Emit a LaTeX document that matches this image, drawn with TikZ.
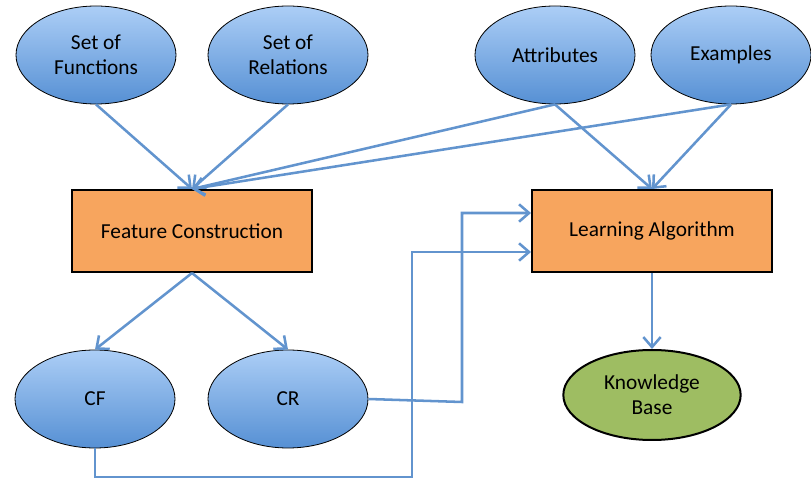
\documentclass[tikz,border=0pt]{standalone}
\usepackage{fontspec}
\setmainfont{Carlito}
\usetikzlibrary{arrows.meta,shapes.geometric}

\definecolor{ellTop}{RGB}{172,206,246}
\definecolor{ellBot}{RGB}{86,144,212}
\definecolor{boxOrange}{RGB}{247,165,94}
\definecolor{kbGreen}{RGB}{158,189,98}
\definecolor{linkBlue}{RGB}{98,148,206}

\tikzset{every picture/.style={line width=0.75pt}}
\tikzset{
  inputell/.style={ellipse, draw=black, line width=0.6pt, top color=ellTop, bottom color=ellBot,
    minimum width=120pt, minimum height=73.5pt, inner sep=0pt, align=center,
    font=\fontsize{16}{19}\selectfont},
  procbox/.style={rectangle, draw=black, line width=1.5pt, fill=boxOrange,
    minimum width=180pt, minimum height=61.5pt, inner sep=0pt, align=center,
    font=\fontsize{16}{19}\selectfont},
  kbell/.style={ellipse, draw=black, line width=1.5pt, fill=kbGreen,
    minimum width=133pt, minimum height=67.5pt, inner sep=0pt, align=center,
    font=\fontsize{16}{19}\selectfont},
  link/.style={draw=linkBlue, line width=1.9pt, -{Straight Barb[length=7.5pt,width=13pt]}},
}

\begin{document}
\begin{tikzpicture}[x=0.75pt,y=0.75pt,yscale=-1,xscale=1]
  \useasboundingbox (0,0) rectangle (811,484);

  %Top row inputs
  \node (sf) at (96,55) [inputell] {Set of\\Functions};
  \node (sr) at (288,55) [inputell] {Set of\\Relations};
  \node (at) at (555,55) [inputell] {Attributes};
  \node (ex) at (731,55) [inputell] {Examples};

  %Processing boxes
  \node (fc) at (192,231) [procbox] {Feature Construction};
  \node (la) at (652,231) [procbox] {Learning Algorithm};

  %Constructed features
  \node (cf) at (95,399) [inputell] {CF};
  \node (cr) at (288,399) [inputell] {CR};

  %Output
  \node (kb) at (652,395) [kbell] {Knowledge\\Base};

  %Bend points
  \coordinate (crBend) at (462,402);
  \coordinate (cfBend) at (412,477);

  %Links into Feature Construction
  \draw [link] (sf.south) -- (fc.north);
  \draw [link] (sr.south) -- (fc.north);
  \draw [link] (at.south) -- (fc.north);
  \draw [link] (ex.south) -- (fc.north);

  %Links into Learning Algorithm
  \draw [link] (at.south) -- (la.north);
  \draw [link] (ex.south) -- (la.north);
  \draw [link] (cr.east) -- (crBend) |- ([yshift=-13.5pt]la.west);
  \draw [link] (cf.south) |- (cfBend) |- ([yshift=15.75pt]la.west);

  %Feature Construction outputs
  \draw [link] (fc.south) -- (cf.north);
  \draw [link] (fc.south) -- (cr.north);

  %Result
  \draw [link] (la.south) -- (kb.north);
\end{tikzpicture}
\end{document}
